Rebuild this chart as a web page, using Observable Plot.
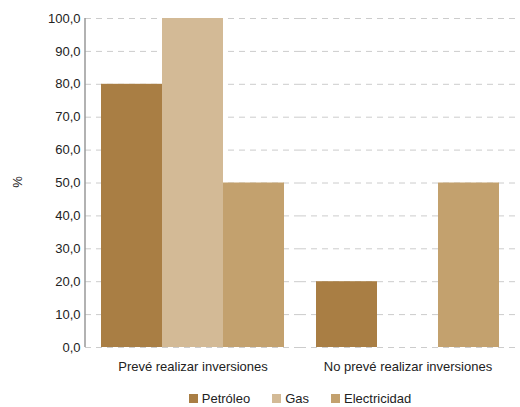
<!DOCTYPE html>
<html><head><meta charset="utf-8">
<script src="https://cdn.jsdelivr.net/npm/d3@7"></script>
<script src="https://cdn.jsdelivr.net/npm/@observablehq/plot@0.6"></script>
<style>
body{margin:0;background:#fff;font-family:"Liberation Sans",Arial,sans-serif;}
#legend{display:flex;justify-content:center;gap:22px;font-size:13px;color:#222;margin-left:80px;margin-top:9px}
#legend span{display:inline-flex;align-items:center}
#legend i{display:inline-block;width:9px;height:9px;margin-right:4px}
</style></head><body>
<div id="chart"></div>
<div id="legend"></div>
<script>
const groups = ["Prevé realizar inversiones", "No prevé realizar inversiones"];
const series = ["Petróleo", "Gas", "Electricidad"];
const colors = ["#a97e44", "#d3ba96", "#c3a16e"];
const values = [[80, 100, 50], [20, 0, 50]];
const yTicks = d3.range(0, 101, 10);

const data = [];
groups.forEach((g, i) => series.forEach((s, j) => data.push({group: g, serie: s, value: values[i][j]})));
const fmt = d => d.toFixed(1).replace(".", ",");

const chart = Plot.plot({
  width: 520,
  height: 382,
  marginLeft: 85,
  marginRight: 5,
  marginTop: 18,
  marginBottom: 35,
  style: {fontFamily: "Liberation Sans, Arial, sans-serif", fontSize: "13px", color: "#222"},
  fx: {domain: groups, padding: 0, label: null, axis: "bottom", tickSize: 0, tickPadding: 14},
  x: {domain: series, axis: null, paddingInner: 0, paddingOuter: 0.24},
  y: {domain: [0, 100], ticks: yTicks, tickFormat: fmt, tickSize: 0, tickPadding: 5, label: null},
  color: {domain: series, range: colors},
  marks: [
    Plot.ruleY(yTicks, {stroke: "#ccc", strokeDasharray: "6,5", facet: "exclude"}),
    Plot.barY(data, {fx: "group", x: "serie", y: "value", fill: "serie"})
  ]
});
const svg = d3.select(chart);
svg.append("line").attr("x1", 85).attr("x2", 85).attr("y1", 18).attr("y2", 347)
  .attr("stroke", "#999").attr("stroke-width", 1.5);
svg.append("text").attr("transform", "translate(22,182) rotate(-90)")
  .attr("text-anchor", "middle").attr("fill", "#222").text("%");
document.getElementById("chart").append(chart);

const legend = d3.select("#legend");
series.forEach((s, i) => {
  const sp = legend.append("span");
  sp.append("i").style("background", colors[i]);
  sp.append("b").style("font-weight", "normal").text(s);
});
</script>
</body></html>
